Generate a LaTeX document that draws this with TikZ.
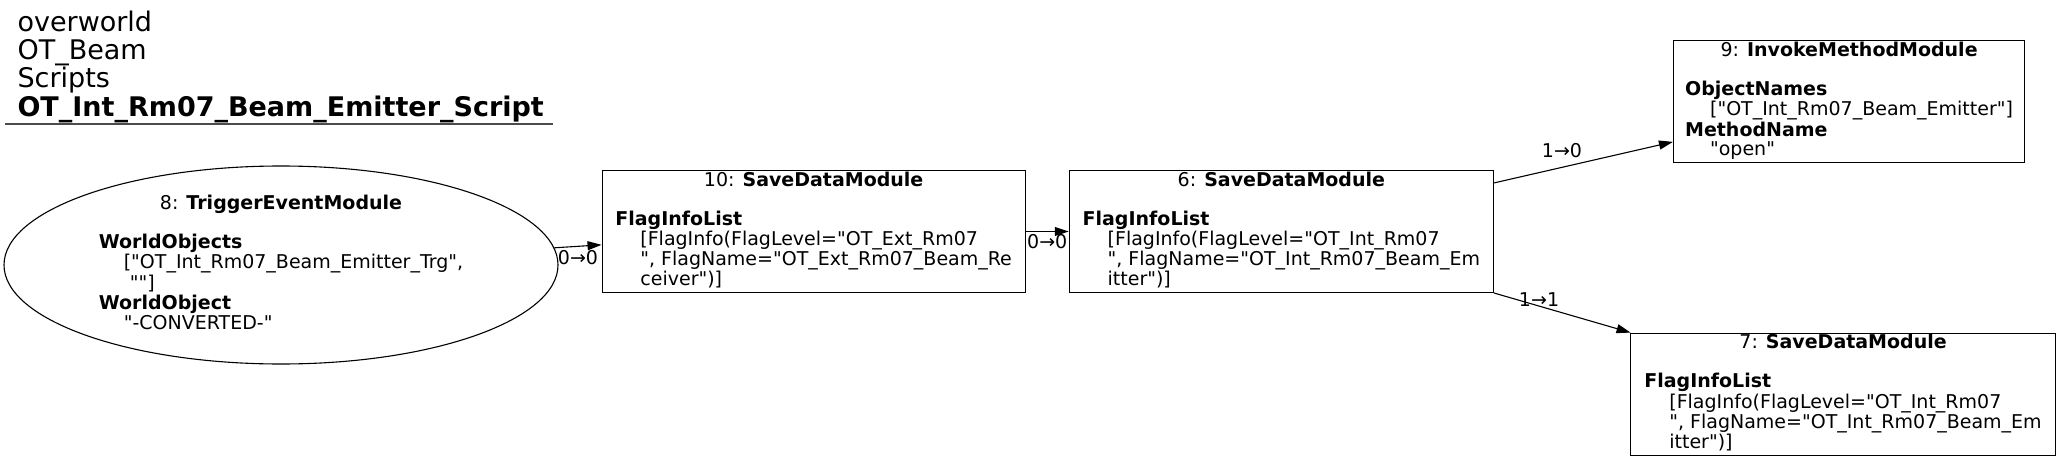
\documentclass[tikz,border=0pt]{standalone}
\usepackage{fontspec}
\setmainfont{DejaVu Sans}[Ligatures=TeXOff]
\usetikzlibrary{arrows.meta,positioning,shapes.geometric}
\newcommand{\indnt}{\hspace*{12.5pt}}

\begin{document}
\begin{tikzpicture}[->,>={Triangle[length=7pt,width=4.5pt]},x=0.5pt,y=-0.5pt,
                    line width=0.55pt,font=\fontsize{9.5}{9.5}\selectfont,
                    module/.style={draw,rectangle,inner sep=0pt,minimum width=212pt,
                                   minimum height=61pt,line width=0.6pt},
                    trig/.style={draw,ellipse,inner sep=0pt,minimum width=277pt,
                                 minimum height=99pt},
                    hdr/.style={anchor=north west,inner sep=0pt,
                                font=\fontsize{13.5}{13.35}\selectfont},
                    lbl/.style={inner sep=1pt}]
 \useasboundingbox (0,0) rectangle (2056,460);

 % title block
 \node[hdr] (hdr) at (17,10.3) {\begin{tabular}{@{}l@{}}overworld\\OT\_Beam\\Scripts\\
   \textbf{OT\_Int\_Rm07\_Beam\_Emitter\_Script}\end{tabular}};
 \draw[-,line width=0.7pt,black!70] (5,124) -- (553,124);

 \node[trig] (m8) at (281,265) {\begin{tabular}{@{}l@{}}
   \multicolumn{1}{@{}c@{}}{8: \textbf{TriggerEventModule}}\\ \\
   \textbf{WorldObjects}\\
   \indnt["OT\_Int\_Rm07\_Beam\_Emitter\_Trg",\\
   \indnt\ ""]\\
   \textbf{WorldObject}\\
   \indnt"-CONVERTED-"\end{tabular}};
 \node[module,right=21.5pt of m8,yshift=16.75pt,minimum width=211.5pt] (m10) {\begin{tabular}{@{}l@{}}
   \multicolumn{1}{@{}c@{}}{10: \textbf{SaveDataModule}}\\ \\
   \textbf{FlagInfoList}\\
   \indnt[FlagInfo(FlagLevel="OT\_Ext\_Rm07\\
   \indnt", FlagName="OT\_Ext\_Rm07\_Beam\_Re\\
   \indnt ceiver")]\end{tabular}};
 \node[module,right=21.5pt of m10] (m6) {\begin{tabular}{@{}l@{}}
   \multicolumn{1}{@{}c@{}}{6: \textbf{SaveDataModule}}\\ \\
   \textbf{FlagInfoList}\\
   \indnt[FlagInfo(FlagLevel="OT\_Int\_Rm07\\
   \indnt", FlagName="OT\_Int\_Rm07\_Beam\_Em\\
   \indnt itter")]\end{tabular}};
 \node[module,above right=3.25pt and 89.5pt of m6,minimum width=175.5pt] (m9) {\begin{tabular}{@{}l@{}}
   \multicolumn{1}{@{}c@{}}{9: \textbf{InvokeMethodModule}}\\ \\
   \textbf{ObjectNames}\\
   \indnt["OT\_Int\_Rm07\_Beam\_Emitter"]\\
   \textbf{MethodName}\\
   \indnt"open"\end{tabular}};
 \node[module,below right=19.75pt and 68pt of m6,minimum width=212.5pt] (m7) {\begin{tabular}{@{}l@{}}
   \multicolumn{1}{@{}c@{}}{7: \textbf{SaveDataModule}}\\ \\
   \textbf{FlagInfoList}\\
   \indnt[FlagInfo(FlagLevel="OT\_Int\_Rm07\\
   \indnt", FlagName="OT\_Int\_Rm07\_Beam\_Em\\
   \indnt itter")]\end{tabular}};

 \path (m8)  edge node[lbl,below=1pt] (l810) {0→0} (m10)
       (m10) edge node[lbl,below] (l106) {0→0} (m6)
       (m6)  edge node[lbl,above=3.5pt,pos=.38] (l69) {1→0} (m9)
             edge node[lbl,above=-1.5pt,pos=.33] (l67) {1→1} (m7);

\end{tikzpicture}
\end{document}
